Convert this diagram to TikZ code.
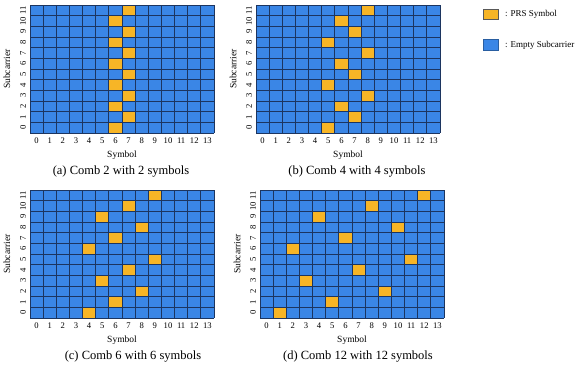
\documentclass[tikz,border=0pt]{standalone}
\usepackage{fontspec}
\setmainfont{Liberation Serif}
\definecolor{emptyblue}{HTML}{3A86E6}
\definecolor{prsorange}{HTML}{F7B526}
\definecolor{gridline}{HTML}{1C3560}

\tikzset{
  ticklab/.style={font=\fontsize{8.6}{9}\selectfont,inner sep=0pt},
  axislab/.style={font=\fontsize{9.5}{10}\selectfont,inner sep=0pt},
  caplab/.style={font=\fontsize{12.5}{13}\selectfont,inner sep=0pt},
  legendlab/.style={font=\fontsize{9}{9}\selectfont,inner sep=0pt,anchor=west},
}

% one resource grid: name, x0, y0, row/col of PRS, caption x, caption
\newcommand{\combgrid}[6]{%
  \begin{scope}[shift={(#2,#3)}]
    \fill[emptyblue] (0,0) rectangle (184,128);
    \foreach \r/\c in {#4}
      \fill[prsorange] ({\c*13.143},{(11-\r)*10.667}) rectangle +(13.143,10.667);
    \foreach \c in {0,...,14}
      \draw[gridline,line width=0.9pt] ({\c*13.143},0) -- ({\c*13.143},128);
    \foreach \r in {0,...,12}
      \draw[gridline,line width=0.9pt] (0,{\r*10.667}) -- (184,{\r*10.667});
    \foreach \c in {0,...,13}
      \node[ticklab] (#1sym\c) at ({(\c+0.5)*13.143},136) {\c};
    \foreach \r in {0,...,11}
      \node[ticklab,rotate=90] (#1sub\r) at (-7,{(11.5-\r)*10.667}) {\r};
    \node[axislab] (#1xlab) at (92,150) {Symbol};
    \node[axislab,rotate=90] (#1ylab) at (-23,64) {Subcarrier};
    \node[caplab] (#1cap) at (#5,167) {#6};
  \end{scope}
}

\begin{document}
\begin{tikzpicture}[x=1pt,y=-1pt]
  \useasboundingbox (0,0) rectangle (582,370);
  \combgrid{a}{30}{5}{0/6,1/7,2/6,3/7,4/6,5/7,6/6,7/7,8/6,9/7,10/6,11/7}{91}{(a) Comb 2 with 2 symbols}
  \combgrid{b}{256}{5}{0/5,1/7,2/6,3/8,4/5,5/7,6/6,7/8,8/5,9/7,10/6,11/8}{101}{(b) Comb 4 with 4 symbols}
  \combgrid{c}{30}{190}{0/4,1/6,2/8,3/5,4/7,5/9,6/4,7/6,8/8,9/5,10/7,11/9}{103}{(c) Comb 6 with 6 symbols}
  \combgrid{d}{260}{190}{0/1,1/5,2/9,3/3,4/7,5/11,6/2,7/6,8/10,9/4,10/8,11/12}{98}{(d) Comb 12 with 12 symbols}
  % legend
  \filldraw[fill=prsorange,draw=gray!70!black,line width=0.4pt] (483,9) rectangle (498,19);
  \node[legendlab] (prslab) at (505,14) {: PRS Symbol};
  \filldraw[fill=emptyblue,draw=emptyblue!70!black,line width=0.4pt] (483,39) rectangle (498,50);
  \node[legendlab] (emptylab) at (505,45) {: Empty Subcarrier};
\end{tikzpicture}
\end{document}
